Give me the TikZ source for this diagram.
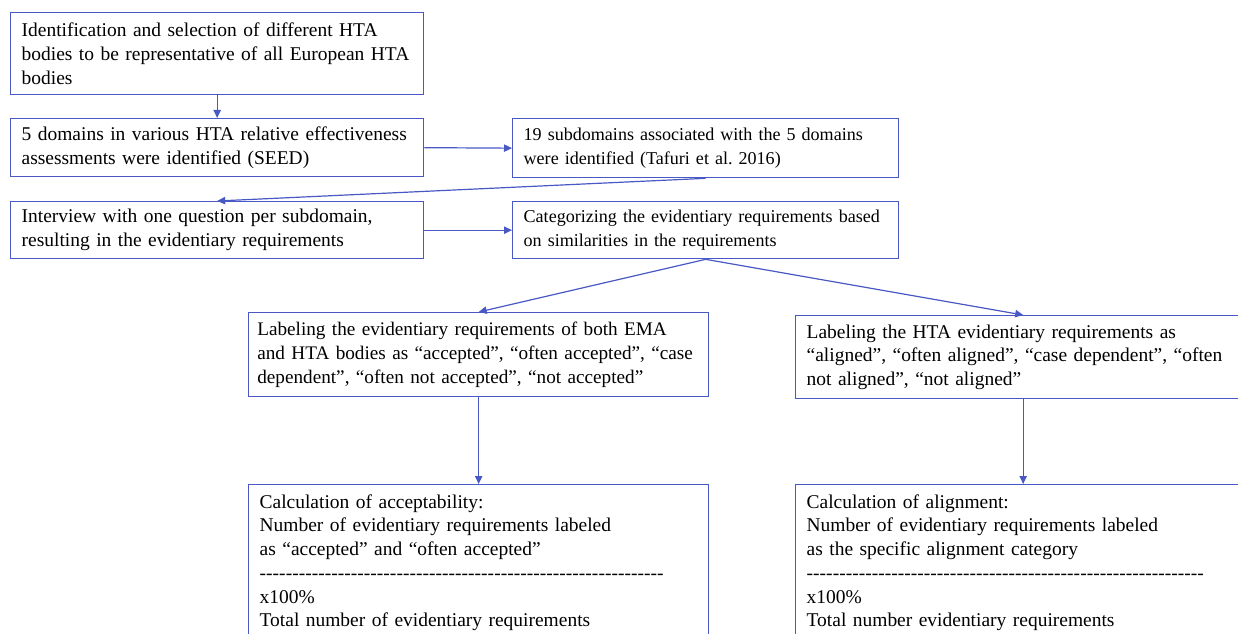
\documentclass[tikz,border=0pt]{standalone}
\usepackage{fontspec}
\setmainfont{Liberation Serif}
\usetikzlibrary{arrows.meta}
\definecolor{lineblue}{RGB}{72,88,196}
\newcommand{\hyphenrule}[1]{\leavevmode\hbox to #1{\xleaders\hbox{-}\hfill}}
\frenchspacing
\begin{document}
\begin{tikzpicture}[x=0.75pt,y=-0.75pt,
  box/.style={draw=lineblue, line width=1pt, anchor=north west, align=left,
    inner xsep=8.25pt, inner ysep=2pt, font=\fontsize{14.6pt}{17.8pt}\selectfont},
  smallbox/.style={box, font=\fontsize{13.55pt}{17.8pt}\selectfont},
  conn/.style={draw=lineblue, line width=0.9pt, -{Triangle[length=6pt,width=5.5pt]}}]
\useasboundingbox (0,0) rectangle (1238,634);
\fill[white] (0,0) rectangle (1238,634);
\clip (0,0) rectangle (1238,634);

\node[box, text width=293.25pt, minimum height=61.5pt] (b1) at (10,12)
  {Identification and selection of different HTA\\bodies to be representative of all European HTA\\bodies};
\node[box, text width=293.25pt, minimum height=43.5pt] (b2) at (10,118)
  {5 domains in various HTA relative effectiveness\\assessments were identified (SEED)};
\node[smallbox, text width=273pt, minimum height=44.25pt] (b3) at (512,118)
  {19 subdomains associated with the 5 domains\\were identified (Tafuri et al.\ 2016)};
\node[box, text width=293.25pt, minimum height=42.75pt] (b4) at (10,201)
  {Interview with one question per subdomain,\\resulting in the evidentiary requirements};
\node[smallbox, text width=273pt, minimum height=42.75pt] (b5) at (512,201)
  {Categorizing the evidentiary requirements based\\on similarities in the requirements};
\node[box, font=\fontsize{14.4pt}{17.8pt}\selectfont, inner xsep=6.5pt, text width=332pt, minimum height=63pt] (b6) at (248,312)
  {Labeling the evidentiary requirements of both EMA\\and HTA bodies as “accepted”, “often accepted”, “case\\dependent”, “often not accepted”, “not accepted”};
\node[box, text width=324.75pt, minimum height=62.25pt] (b7) at (795,315)
  {Labeling the HTA evidentiary requirements as\\“aligned”, “often aligned”, “case dependent”, “often\\not aligned”, “not aligned”};
\node[box, text width=328.5pt, minimum height=117pt] (b8) at (248,484)
  {Calculation of acceptability:\\Number of evidentiary requirements labeled\\as “accepted” and “often accepted”\\\hyphenrule{303pt}\\x100\%\\Total number of evidentiary requirements};
\node[box, text width=324.75pt, minimum height=117pt] (b9) at (795,484)
  {Calculation of alignment:\\Number of evidentiary requirements labeled\\as the specific alignment category\\\hyphenrule{298pt}\\x100\%\\Total number evidentiary requirements};

\draw[conn] (b1.south) -- (b2.north);
\draw[conn] (b2.east) -- (b3.west);
\draw[conn] (b3.south) -- (b4.north);
\draw[conn] (b4.east) -- (b5.west);
\draw[conn] (b5.south) -- (b6.north);
\draw[conn] (b5.south) -- (b7.north);
\draw[conn] (b6.south) -- (b8.north);
\draw[conn] (b7.south) -- (b9.north);
\end{tikzpicture}
\end{document}
